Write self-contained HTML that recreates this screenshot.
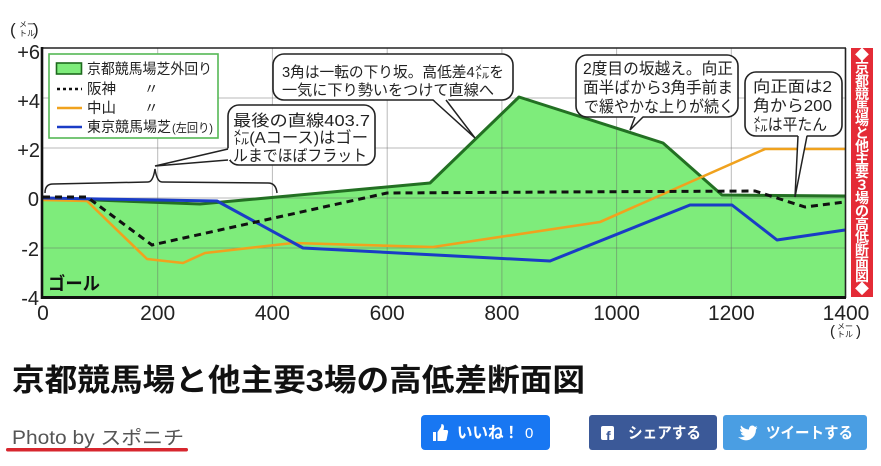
<!DOCTYPE html>
<html><head><meta charset="utf-8">
<style>
html,body{margin:0;padding:0;background:#fff;}
svg{display:block;}
text{font-family:"Liberation Sans","Noto Sans CJK JP",sans-serif;}
</style></head>
<body>
<svg width="881" height="466" viewBox="0 0 881 466" xmlns="http://www.w3.org/2000/svg">
<rect x="0" y="0" width="881" height="466" fill="#fff"/>
<!-- green fill -->
<polygon points="43,198 200,204 430,183 519,97 663,143 722,195 845,196 845,297 43,297" fill="#7eec7b"/>
<!-- grid -->
<g stroke="#666" stroke-opacity="0.45" stroke-width="1">
<line x1="157.7" y1="48" x2="157.7" y2="297"/>
<line x1="272.4" y1="48" x2="272.4" y2="297"/>
<line x1="387.2" y1="48" x2="387.2" y2="297"/>
<line x1="501.9" y1="48" x2="501.9" y2="297"/>
<line x1="616.6" y1="48" x2="616.6" y2="297"/>
<line x1="731.3" y1="48" x2="731.3" y2="297"/>
<line x1="42" y1="98" x2="845" y2="98"/>
<line x1="42" y1="148" x2="845" y2="148"/>
<line x1="42" y1="198" x2="845" y2="198"/>
<line x1="42" y1="248" x2="845" y2="248"/>
</g>
<!-- series -->
<polyline points="43,198 200,204 430,183 519,97 663,143 722,195 845,196" fill="none" stroke="#237023" stroke-width="3" stroke-linejoin="round"/>
<polyline points="43,200 87,201 147,259 183,263 205,253 293,243 433,247 600,222 765,149 845,149" fill="none" stroke="#f0a21e" stroke-width="2.6" stroke-linejoin="round"/>
<polyline points="43,198 217,201 303,248 550,261 690,205 732,205 777,240 845,230" fill="none" stroke="#1a3cc6" stroke-width="3" stroke-linejoin="round"/>
<polyline points="43,197 87,197 152,245 387,193 560,192 755,191 805,207 845,202" fill="none" stroke="#111" stroke-width="3" stroke-dasharray="7 5"/>
<!-- frame / axes -->
<line x1="42" y1="48" x2="846" y2="48" stroke="#222" stroke-width="1.6"/>
<line x1="845.5" y1="48" x2="845.5" y2="298" stroke="#222" stroke-width="1.6"/>
<line x1="42" y1="47" x2="42" y2="299" stroke="#111" stroke-width="2.6"/>
<line x1="41" y1="297.5" x2="846" y2="297.5" stroke="#111" stroke-width="3"/>
<!-- y labels -->
<g font-size="20" fill="#222" text-anchor="end">
<text x="40" y="59">+6</text>
<text x="40" y="108">+4</text>
<text x="40" y="157">+2</text>
<text x="39" y="206">0</text>
<text x="39" y="256">-2</text>
<text x="39" y="305">-4</text>
</g>
<!-- y unit -->
<g fill="#222">
<text x="10" y="35" font-size="17">(</text>
<text x="19" y="27" font-size="8">メー</text>
<text x="19" y="36" font-size="8">トル</text>
<text x="33" y="35" font-size="17">)</text>
</g>
<!-- x labels -->
<g font-size="21" fill="#222" text-anchor="middle">
<text x="43" y="320">0</text>
<text x="157.7" y="320">200</text>
<text x="272.4" y="320">400</text>
<text x="387.2" y="320">600</text>
<text x="501.9" y="320">800</text>
<text x="616.6" y="320">1000</text>
<text x="731.3" y="320">1200</text>
<text x="846" y="320">1400</text>
</g>
<g fill="#222">
<text x="830" y="336" font-size="15">(</text>
<text x="837" y="329" font-size="8">メー</text>
<text x="837" y="337" font-size="8">トル</text>
<text x="856" y="336" font-size="15">)</text>
</g>
<!-- goal -->
<text x="48" y="290" font-size="18" font-weight="bold" fill="#111" textLength="52" lengthAdjust="spacingAndGlyphs">ゴール</text>
<!-- brace -->
<path d="M45,193 Q45,184 53,184 L148,182 Q153,182 155,169 Q157,182 162,182 L268,183 Q276,183 277,193" fill="none" stroke="#222" stroke-width="1.5"/>
<!-- callout 1 -->
<rect x="273" y="54" width="240" height="46" rx="11" fill="#fff" stroke="#222" stroke-width="1.6"/>
<polygon points="432,98 475,138 447,98" fill="#fff"/>
<polyline points="433,100 475,138 446,100" fill="none" stroke="#222" stroke-width="1.5"/>
<g font-size="15" fill="#222">
<text x="282" y="77" textLength="222" lengthAdjust="spacingAndGlyphs">3角は一転の下り坂。高低差4㍍を</text>
<text x="282" y="95" textLength="212" lengthAdjust="spacingAndGlyphs">一気に下り勢いをつけて直線へ</text>
</g>
<!-- callout 2 -->
<rect x="228" y="105" width="147" height="60" rx="11" fill="#fff" stroke="#222" stroke-width="1.6"/>
<polygon points="230,148 155,166 230,160" fill="#fff"/>
<polyline points="228,149 155,166 228,160" fill="none" stroke="#222" stroke-width="1.5"/>
<g font-size="16" fill="#222">
<text x="233" y="126" textLength="137" lengthAdjust="spacingAndGlyphs">最後の直線403.7</text>
<text x="233" y="143" textLength="135" lengthAdjust="spacingAndGlyphs">㍍(Aコース)はゴー</text>
<text x="233" y="161" textLength="134" lengthAdjust="spacingAndGlyphs">ルまでほぼフラット</text>
</g>
<!-- callout 3 -->
<rect x="576" y="55" width="162" height="62" rx="11" fill="#fff" stroke="#222" stroke-width="1.6"/>
<polygon points="634,115 630,130 644,115" fill="#fff"/>
<polyline points="635,117 630,130 643,117" fill="none" stroke="#222" stroke-width="1.5"/>
<g font-size="16" fill="#222">
<text x="583" y="74" textLength="150" lengthAdjust="spacingAndGlyphs">2度目の坂越え。向正</text>
<text x="583" y="93" textLength="150" lengthAdjust="spacingAndGlyphs">面半ばから3角手前ま</text>
<text x="584" y="112" textLength="150" lengthAdjust="spacingAndGlyphs">で緩やかな上りが続く</text>
</g>
<!-- callout 4 -->
<rect x="745" y="72" width="97" height="64" rx="11" fill="#fff" stroke="#222" stroke-width="1.6"/>
<polygon points="798,134 795,197 807,134" fill="#fff"/>
<polyline points="798,136 795,197 807,136" fill="none" stroke="#222" stroke-width="1.5"/>
<g font-size="16" fill="#222">
<text x="753" y="92" textLength="79" lengthAdjust="spacingAndGlyphs">向正面は2</text>
<text x="753" y="111" textLength="79" lengthAdjust="spacingAndGlyphs">角から200</text>
<text x="753" y="130" textLength="74" lengthAdjust="spacingAndGlyphs">㍍は平たん</text>
</g>
<!-- legend -->
<rect x="49" y="54" width="169" height="84" fill="#fff" stroke="#55b855" stroke-width="1.6"/>
<rect x="56.5" y="63" width="25" height="11" fill="#7eec7b" stroke="#1e6a1e" stroke-width="1.6"/>
<line x1="57" y1="89" x2="82" y2="89" stroke="#111" stroke-width="2.4" stroke-dasharray="3 3"/>
<line x1="57" y1="108" x2="82" y2="108" stroke="#f0a21e" stroke-width="2.4"/>
<line x1="57" y1="127" x2="82" y2="127" stroke="#1a3cc6" stroke-width="2.4"/>
<g font-size="14.5" fill="#222">
<text x="87" y="74" textLength="125" lengthAdjust="spacingAndGlyphs">京都競馬場芝外回り</text>
<text x="87" y="94" textLength="29" lengthAdjust="spacingAndGlyphs">阪神</text>
<text x="144" y="94">〃</text>
<text x="87" y="113" textLength="29" lengthAdjust="spacingAndGlyphs">中山</text>
<text x="144" y="113">〃</text>
<text x="87" y="132" textLength="84" lengthAdjust="spacingAndGlyphs">東京競馬場芝</text>
<text x="172" y="132" font-size="12" textLength="41" lengthAdjust="spacingAndGlyphs">(左回り)</text>
</g>
<!-- red vertical label -->
<rect x="851" y="48" width="22" height="249" fill="#e42b36"/>
<g font-size="14" font-weight="bold" fill="#fff" text-anchor="middle" dominant-baseline="central">
<text x="862" y="55">◆</text>
<text x="862" y="68">京</text>
<text x="862" y="81">都</text>
<text x="862" y="94">競</text>
<text x="862" y="107">馬</text>
<text x="862" y="120">場</text>
<text x="862" y="133">と</text>
<text x="862" y="146">他</text>
<text x="862" y="159">主</text>
<text x="862" y="172">要</text>
<text x="862" y="185">３</text>
<text x="862" y="198">場</text>
<text x="862" y="211">の</text>
<text x="862" y="224">高</text>
<text x="862" y="237">低</text>
<text x="862" y="250">断</text>
<text x="862" y="263">面</text>
<text x="862" y="276">図</text>
<text x="862" y="289">◆</text>
</g>
<!-- title -->
<text x="12" y="391" font-size="31" font-weight="bold" fill="#111" textLength="573" lengthAdjust="spacingAndGlyphs">京都競馬場と他主要3場の高低差断面図</text>
<!-- photo by -->
<text x="12" y="444" font-size="19" fill="#555" textLength="172" lengthAdjust="spacingAndGlyphs">Photo by スポニチ</text>
<rect x="6" y="448" width="182" height="3.5" rx="1.7" fill="#d7262e"/>
<!-- like button -->
<rect x="421" y="415" width="129" height="35" rx="4" fill="#1877f2"/>
<rect x="433" y="432" width="3" height="9" fill="#fff"/>
<path d="M437.5,432 L441,427 L441.5,424 Q444,424 444,427 L443.5,430 L447,430 Q448.5,430.5 448,432.5 L446.5,440 Q446,441 444.5,441 L437.5,441 Z" fill="#fff"/>
<text x="457" y="438" font-size="16" font-weight="bold" fill="#fff" textLength="62" lengthAdjust="spacingAndGlyphs">いいね！</text>
<text x="525" y="438" font-size="15" fill="#fff">0</text>
<!-- share button -->
<rect x="589" y="415" width="128" height="35" rx="3" fill="#3b5998"/>
<rect x="601" y="426" width="13" height="14" rx="2" fill="#fff"/>
<text x="606" y="441" font-size="14" font-weight="bold" fill="#3b5998">f</text>
<text x="628" y="438" font-size="15.5" font-weight="bold" fill="#fff" textLength="73" lengthAdjust="spacingAndGlyphs">シェアする</text>
<!-- tweet button -->
<rect x="723" y="415" width="144" height="35" rx="3" fill="#4a9ee3"/>
<path d="M738,437 Q742,438 745,436 Q741,435.5 741,433 Q742.5,433.3 743,433 Q740,432 740,429 Q741,429.5 742,429.5 Q740,427.5 741,425.5 Q744.5,429.5 749,429.5 Q749,425.5 752.5,425.5 Q754,425.5 755,427 L757,426 L756,428 L757.5,427.5 L756,429.5 Q756,436 750,439.5 Q744,442 738,437 Z" fill="#fff"/>
<text x="766" y="438" font-size="15.5" font-weight="bold" fill="#fff" textLength="87" lengthAdjust="spacingAndGlyphs">ツイートする</text>
</svg>
</body></html>
